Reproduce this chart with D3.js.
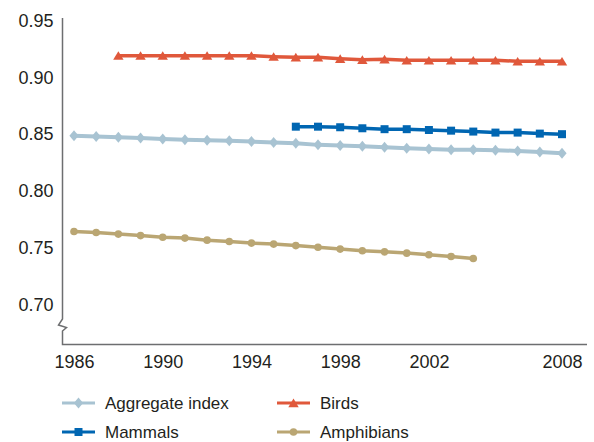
<!DOCTYPE html>
<head>
<meta charset="utf-8" />
</head>
<style>
body {
  margin: 0;
  font-family: "Liberation Sans", Arial, sans-serif;
  background: #fff;
}
svg {
  display: block;
}
.tick text {
  font-size: 18px;
  fill: #231f20;
}
.legend text {
  font-size: 17px;
  fill: #231f20;
}
</style>
<body>
<script src="https://cdn.jsdelivr.net/npm/d3@7"></script>
<script>
// years on the x axis
var years = [1986, 1987, 1988, 1989, 1990, 1991, 1992, 1993, 1994, 1995, 1996, 1997,
             1998, 1999, 2000, 2001, 2002, 2003, 2004, 2005, 2006, 2007, 2008];
var xTickYears = [1986, 1990, 1994, 1998, 2002, 2008];
var yTickValues = [0.70, 0.75, 0.80, 0.85, 0.90, 0.95];

// index values per year (null = no value that year)
var aggregate = [0.8487, 0.8479, 0.8473, 0.8467, 0.8458, 0.8452, 0.8447, 0.8443, 0.8435, 0.8426,
                 0.8421, 0.8406, 0.8400, 0.8394, 0.8385, 0.8377, 0.8370, 0.8364, 0.8362, 0.8359,
                 0.8353, 0.8344, 0.8333];
var birds = [null, null, 0.9191, 0.9191, 0.9191, 0.9191, 0.9191, 0.9191, 0.9191, 0.9182,
             0.9177, 0.9177, 0.9164, 0.9155, 0.9159, 0.9150, 0.9150, 0.9150, 0.9150, 0.9150,
             0.9141, 0.9141, 0.9141];
var mammals = [null, null, null, null, null, null, null, null, null, null,
               0.8566, 0.8566, 0.8561, 0.8552, 0.8544, 0.8544, 0.8537, 0.8531, 0.8523, 0.8514,
               0.8514, 0.8505, 0.8500];
var amphibians = [0.7644, 0.7635, 0.7621, 0.7608, 0.7594, 0.7586, 0.7568, 0.7556, 0.7542, 0.7533,
                  0.7520, 0.7505, 0.7489, 0.7474, 0.7465, 0.7454, 0.7439, 0.7424, 0.7406,
                  null, null, null, null];

var seriesNames = ["Aggregate index", "Birds", "Mammals", "Amphibians"];
var seriesValues = [aggregate, birds, mammals, amphibians];

var width = 594, height = 442;

// custom marker shapes
var diamond = {draw: function(c, s) { var h = 5.5, w = 4.6;
  c.moveTo(0, -h); c.lineTo(w, 0); c.lineTo(0, h); c.lineTo(-w, 0); c.closePath(); }};
var triangle = {draw: function(c, s) {
  c.moveTo(0, -4.4); c.lineTo(5.2, 4.2); c.lineTo(-5.2, 4.2); c.closePath(); }};
var square = {draw: function(c, s) {
  c.rect(-4, -4, 8, 8); }};
var circle = {draw: function(c, s) {
  c.moveTo(3.8, 0); c.arc(0, 0, 3.8, 0, 2 * Math.PI); }};

var styles = {
  "Aggregate index": {color: "#a8c3d2", width: 4, shape: diamond},
  "Birds": {color: "#e0583b", width: 3.5, shape: triangle},
  "Mammals": {color: "#0066b2", width: 3.5, shape: square},
  "Amphibians": {color: "#baa673", width: 3.5, shape: circle}
};

var x = d3.scaleLinear().domain([1986, 2008]).range([74, 562]);
var y = d3.scaleLinear().domain([0.665, 0.95]).range([344.5, 20.5]);

var svg = d3.select("body").append("svg")
  .attr("width", width)
  .attr("height", height);

// y axis labels
svg.append("g")
  .attr("transform", "translate(62.5,0)")
  .call(d3.axisLeft(y).tickValues(yTickValues).tickSize(0).tickPadding(9)
    .tickFormat(d3.format(".2f")))
  .call(function(g) { g.select(".domain").remove(); })
  .selectAll("text").attr("font-family", null).attr("font-size", null);

// x axis labels
svg.append("g")
  .attr("transform", "translate(0,344.5)")
  .call(d3.axisBottom(x).tickValues(xTickYears).tickSize(0).tickPadding(11)
    .tickFormat(d3.format("d")))
  .call(function(g) { g.select(".domain").remove(); })
  .selectAll("text").attr("font-family", null).attr("font-size", null);

// axis lines with break on the y axis
var y0 = y.range()[0];
svg.append("path")
  .attr("d", "M62.5," + (y.range()[1] - 2.5) + "V319L58.5,325L66.5,327.5L62.5,331V" + y0 + "H587")
  .attr("fill", "none")
  .attr("stroke", "#6d6e70")
  .attr("stroke-width", 1.5);

var line = d3.line()
  .defined(function(d) { return d.v != null; })
  .x(function(d) { return x(d.year); })
  .y(function(d) { return y(d.v); });

var series = seriesNames.map(function(name, i) {
  return {name: name, points: years.map(function(yr, j) { return {year: yr, v: seriesValues[i][j]}; })};
});

var g = svg.selectAll("g.series")
  .data(series)
  .enter().append("g")
  .attr("class", "series");

g.append("path")
  .attr("fill", "none")
  .attr("stroke", function(d) { return styles[d.name].color; })
  .attr("stroke-width", function(d) { return styles[d.name].width; })
  .attr("stroke-linejoin", "round")
  .attr("d", function(d) { return line(d.points); });

g.selectAll("path.marker")
  .data(function(d) { return d.points.filter(function(p) { return p.v != null; })
    .map(function(p) { p.name = d.name; return p; }); })
  .enter().append("path")
  .attr("class", "marker")
  .attr("transform", function(p) { return "translate(" + x(p.year) + "," + y(p.v) + ")"; })
  .attr("fill", function(p) { return styles[p.name].color; })
  .attr("d", function(p) { return d3.symbol().type(styles[p.name].shape)(); });

// legend, two columns
var legend = svg.append("g").attr("class", "legend");
var item = legend.selectAll("g")
  .data(seriesNames)
  .enter().append("g")
  .attr("transform", function(d, i) {
    return "translate(" + (i % 2 ? 277 : 62) + "," + (i < 2 ? 403 : 432) + ")"; });

item.append("line")
  .attr("x1", 0).attr("x2", 33)
  .attr("stroke", function(d) { return styles[d].color; })
  .attr("stroke-width", 3);
item.append("path")
  .attr("transform", "translate(16.5,0)")
  .attr("fill", function(d) { return styles[d].color; })
  .attr("d", function(d) { return d3.symbol().type(styles[d].shape)(); });
item.append("text")
  .attr("x", 43)
  .attr("dy", "0.36em")
  .text(function(d) { return d; });
</script>
</body>
